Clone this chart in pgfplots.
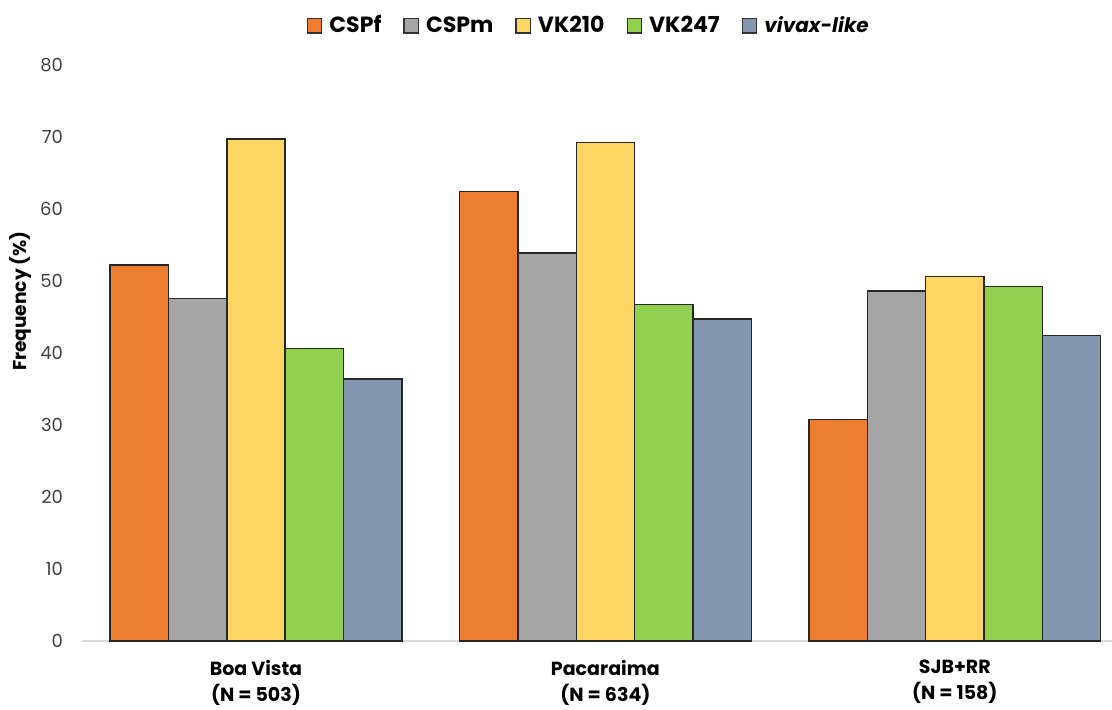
\documentclass[border=0pt]{standalone}
\usepackage{pgfplots}
\pgfplotsset{compat=1.18}
\usepackage{fontspec}
\setmainfont{Poppins}
\definecolor{cOr}{HTML}{ED7D31}
\definecolor{cGr}{HTML}{A5A5A5}
\definecolor{cYe}{HTML}{FDD563}
\definecolor{cGn}{HTML}{92D050}
\definecolor{cBl}{HTML}{8497B0}
\pgfplotsset{sqleg/.style={legend image code/.code={\draw[##1, draw=black!80, line width=0.6pt] (0pt,-3.6pt) rectangle (7.2pt,3.6pt);}}}
\begin{document}
\begin{tikzpicture}
\useasboundingbox (-41pt,-34pt) rectangle (515pt,320.5pt);
\begin{axis}[
  scale only axis, width=515pt, height=288pt,
  at={(0,0)}, anchor=south west,
  ybar=0pt, bar width=0.167,
  xmin=-0.498, xmax=2.45, ymin=0, ymax=80,
  xtick={0,1,2},
  xticklabels={{Boa Vista\\[1.5pt](N = 503)},{Pacaraima\\[1.5pt](N = 634)},{SJB+RR\\[1.5pt](N = 158)}},
  xticklabel style={align=center, font=\bfseries\fontsize{9.5}{11.5}\selectfont, yshift=-6pt},
  ytick={0,10,...,80},
  yticklabel style={font=\fontsize{9}{10}\selectfont, xshift=-6pt, text=black!75},
  /pgf/number format/assume math mode=true,
  axis y line*=left,
  y axis line style={draw=none},
  axis x line*=bottom,
  x axis line style={draw=black!15, line width=0.8pt, -},
  major tick length=0pt,
  tick style={draw=none},
  ylabel={Frequency (\%)},
  ylabel style={at={(axis description cs:-0.0602,0.59)}, anchor=center, font=\bfseries\fontsize{9.3}{11}\selectfont},
  legend columns=-1,
  legend style={draw=none, fill=none, at={(axis description cs:0.493,1.068)}, anchor=center,
    font=\bfseries\fontsize{11}{13}\selectfont,
    /tikz/every even column/.append style={column sep=9pt},
    /tikz/every odd column/.append style={column sep=1.5pt}},
  every axis plot/.append style={draw=black!85, line width=0.7pt},
]
\addplot[fill=cOr, sqleg] coordinates {(0,52.2) (1,62.4) (2,30.8)};
\addplot[fill=cGr, sqleg] coordinates {(0,47.6) (1,53.9) (2,48.6)};
\addplot[fill=cYe, sqleg] coordinates {(0,69.7) (1,69.2) (2,50.6)};
\addplot[fill=cGn, sqleg] coordinates {(0,40.6) (1,46.7) (2,49.2)};
\addplot[fill=cBl, sqleg] coordinates {(0,36.4) (1,44.7) (2,42.4)};
\legend{CSPf,CSPm,VK210,VK247,{\fontsize{10}{13}\selectfont\textit{vivax-like}}}
\end{axis}
\end{tikzpicture}
\end{document}
